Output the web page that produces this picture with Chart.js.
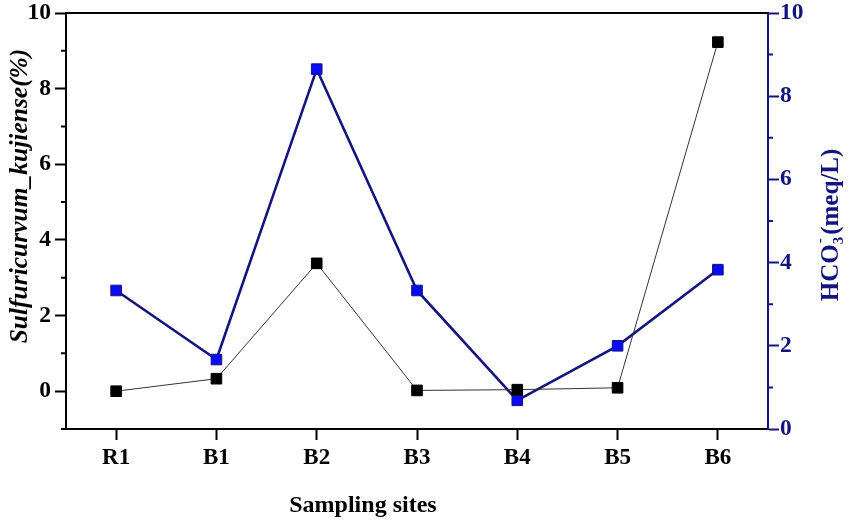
<!DOCTYPE html>
<html>
<head>
<meta charset="utf-8">
<script src="https://cdn.jsdelivr.net/npm/chart.js@4"></script>
<style>
html,body{margin:0;padding:0;background:#fff;}
#wrap{width:851px;height:527px;}
</style>
</head>
<body>
<div id="wrap"><canvas id="c" width="851" height="527"></canvas></div>
<script>
const sites = ['R1','B1','B2','B3','B4','B5','B6'];
const sulfuricurvum = [0, 0.33, 3.38, 0.02, 0.04, 0.09, 9.23];
const hco3 = [3.33, 1.67, 8.65, 3.33, 0.69, 2.0, 3.83];
const leftTicks = [0, 2, 4, 6, 8, 10];
const leftMinor = [-1, 1, 3, 5, 7, 9];
const rightTicks = [0, 2, 4, 6, 8, 10];
const rightMinor = [1, 3, 5, 7, 9];

const NAVY = '#14147f';
const FONT = '"Liberation Serif", "Times New Roman", serif';

const extras = {
  id: 'extras',
  afterDraw(chart) {
    const {ctx, chartArea: a, scales} = chart;
    const y = scales.y, y1 = scales.y1;
    ctx.save();
    // top border
    ctx.strokeStyle = '#000';
    ctx.lineWidth = 2;
    ctx.beginPath();
    ctx.moveTo(a.left - 1, a.top);
    ctx.lineTo(a.right, a.top);
    ctx.stroke();
    // minor ticks left
    ctx.beginPath();
    leftMinor.forEach(v => {
      const p = y.getPixelForValue(v);
      ctx.moveTo(a.left - 5, p);
      ctx.lineTo(a.left, p);
    });
    ctx.stroke();
    // minor ticks right
    ctx.strokeStyle = NAVY;
    ctx.beginPath();
    rightMinor.forEach(v => {
      const p = y1.getPixelForValue(v);
      ctx.moveTo(a.right, p);
      ctx.lineTo(a.right + 5, p);
    });
    ctx.stroke();

    // left title
    ctx.fillStyle = '#000';
    ctx.save();
    ctx.translate(27, 196);
    ctx.rotate(-Math.PI / 2);
    ctx.font = 'italic bold 25.5px ' + FONT;
    ctx.textAlign = 'center';
    ctx.textBaseline = 'alphabetic';
    ctx.fillText('Sulfuricurvum_kujiense(%)', 0, 0);
    ctx.restore();

    // right title HCO3- (meq/L)
    ctx.save();
    ctx.fillStyle = NAVY;
    ctx.translate(838, 225);
    ctx.rotate(-Math.PI / 2);
    ctx.textBaseline = 'alphabetic';
    ctx.textAlign = 'left';
    const mainF = 'bold 25px ' + FONT;
    const smallF = 'bold 15px ' + FONT;
    ctx.font = mainF;
    const w1 = ctx.measureText('HCO').width;
    const w3 = ctx.measureText('(meq/L)').width;
    ctx.font = smallF;
    const w2 = Math.max(ctx.measureText('3').width, ctx.measureText('-').width) + 2;
    let x = -(w1 + w2 + w3) / 2;
    ctx.font = mainF;
    ctx.fillText('HCO', x, 0);
    x += w1;
    ctx.font = smallF;
    ctx.fillText('3', x, 5);
    ctx.fillText('-', x + 1, -14);
    x += w2;
    ctx.font = mainF;
    ctx.fillText('(meq/L)', x, 0);
    ctx.restore();

    // x title
    ctx.fillStyle = '#000';
    ctx.font = 'bold 24px ' + FONT;
    ctx.textAlign = 'center';
    ctx.textBaseline = 'alphabetic';
    ctx.fillText('Sampling sites', a.left + (a.right - a.left) * 0.423, 512);
    ctx.restore();
  }
};

function fixV(width) {
  return function(s) { s.width = width; s.paddingTop = 0; s.paddingBottom = 0; };
}

new Chart(document.getElementById('c'), {
  type: 'line',
  data: {
    labels: sites,
    datasets: [
      {
        label: 'Sulfuricurvum_kujiense',
        data: sulfuricurvum,
        yAxisID: 'y',
        borderColor: '#333',
        borderWidth: 1,
        pointStyle: 'rect',
        pointRadius: 7.5,
        pointBackgroundColor: '#000',
        pointBorderColor: '#000',
        pointBorderWidth: 1,
        tension: 0
      },
      {
        label: 'HCO3-',
        data: hco3,
        yAxisID: 'y1',
        borderColor: NAVY,
        borderWidth: 2.6,
        pointStyle: 'rect',
        pointRadius: 7.5,
        pointBackgroundColor: '#0a0af5',
        pointBorderColor: NAVY,
        pointBorderWidth: 1,
        tension: 0
      }
    ]
  },
  options: {
    responsive: false,
    animation: false,
    devicePixelRatio: 1,
    layout: {padding: {top: 13, left: 0, right: 0, bottom: 0}},
    plugins: {legend: {display: false}, tooltip: {enabled: false}},
    scales: {
      x: {
        type: 'category',
        offset: true,
        grid: {offset: false, drawOnChartArea: false, drawTicks: true, tickLength: 11, tickWidth: 2, tickColor: '#000'},
        border: {display: true, color: '#000', width: 2},
        ticks: {color: '#000', font: {family: FONT, size: 23, weight: 'bold'}, padding: 4, maxRotation: 0},
        afterFit(s) { s.height = 98; s.paddingLeft = 0; s.paddingRight = 0; }
      },
      y: {
        position: 'left',
        min: -1, max: 10,
        afterBuildTicks(s) { s.ticks = leftTicks.map(v => ({value: v})); },
        grid: {drawOnChartArea: false, drawTicks: true, tickLength: 11, tickWidth: 2, tickColor: '#000'},
        border: {display: true, color: '#000', width: 2},
        ticks: {color: '#000', font: {family: FONT, size: 23.5, weight: 'bold'}, padding: 4},
        afterFit: fixV(66)
      },
      y1: {
        position: 'right',
        min: 0, max: 10,
        afterBuildTicks(s) { s.ticks = rightTicks.map(v => ({value: v})); },
        grid: {drawOnChartArea: false, drawTicks: true, tickLength: 11, tickWidth: 2, tickColor: NAVY},
        border: {display: true, color: NAVY, width: 2},
        ticks: {color: NAVY, font: {family: FONT, size: 23.5, weight: 'bold'}, padding: 1},
        afterFit: fixV(83)
      }
    }
  },
  plugins: [extras]
});
</script>
</body>
</html>
